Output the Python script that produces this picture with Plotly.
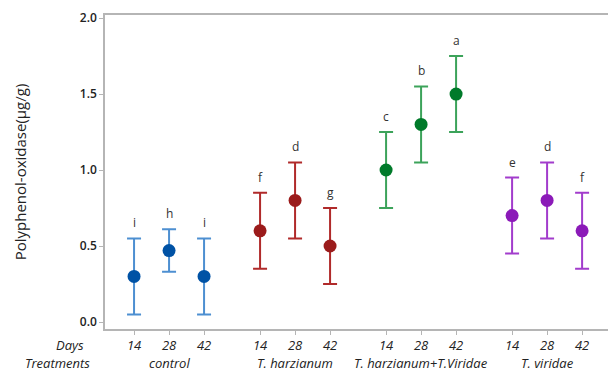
import plotly.graph_objects as go

treatments = ["control", "T. harzianum", "T. harzianum+T.Viridae", "T. viridae"]
days = ["14", "28", "42"]
means = [
    [0.30, 0.47, 0.30],
    [0.60, 0.80, 0.50],
    [1.00, 1.30, 1.50],
    [0.70, 0.80, 0.60],
]
errors = [
    [0.25, 0.14, 0.25],
    [0.25, 0.25, 0.25],
    [0.25, 0.25, 0.25],
    [0.25, 0.25, 0.25],
]
letters = [
    ["i", "h", "i"],
    ["f", "d", "g"],
    ["c", "b", "a"],
    ["e", "d", "f"],
]
marker_colors = ["#0052a5", "#9b1b1b", "#007a2a", "#8b1ab8"]
bar_colors = ["#4d8fd1", "#b02a2a", "#3ca35a", "#a23ccc"]

GROUP_STEP = 3.6

fig = go.Figure()
tickvals, ticktext = [], []
for g, t in enumerate(treatments):
    xs = [g * GROUP_STEP + i for i in range(len(days))]
    tickvals += xs
    ticktext += [f"<i>{d}</i>" for d in days]
    fig.add_trace(go.Scatter(
        x=xs, y=means[g], mode="markers",
        marker=dict(color=marker_colors[g], size=13),
        error_y=dict(type="data", array=errors[g], color=bar_colors[g],
                     thickness=2, width=7),
        showlegend=False, hoverinfo="skip",
    ))
    for i, xv in enumerate(xs):
        fig.add_annotation(x=xv, y=means[g][i] + errors[g][i], text=letters[g][i],
                           showarrow=False, yanchor="bottom", yshift=5,
                           font=dict(size=12, color="#333333", family="Open Sans"))
    fig.add_annotation(x=g * GROUP_STEP + 1, y=-0.108, yref="paper", text=f"<i>{t}</i>",
                       showarrow=False, yanchor="middle",
                       font=dict(size=13, color="#222222", family="Open Sans"))

fig.add_annotation(x=-0.037, xref="paper", y=-0.05, yref="paper", text="<i>Days</i>",
                   showarrow=False, xanchor="right", yanchor="middle",
                   font=dict(size=13, color="#222222", family="Open Sans"))
fig.add_annotation(x=-0.025, xref="paper", y=-0.108, yref="paper", text="<i>Treatments</i>",
                   showarrow=False, xanchor="right", yanchor="middle",
                   font=dict(size=13, color="#222222", family="Open Sans"))

fig.update_layout(
    width=608, height=379,
    margin=dict(l=105, r=0, t=15, b=50),
    plot_bgcolor="white", paper_bgcolor="white",
    font=dict(family="Open Sans", color="#222222"),
    xaxis=dict(range=[-0.83, 13.54], tickvals=tickvals, ticktext=ticktext,
               tickfont=dict(size=13, color="#222222"),
               showgrid=False, zeroline=False, showline=True, mirror=True,
               linecolor="#b5b5b5", linewidth=1.5, ticks="outside", ticklen=4,
               tickcolor="#b5b5b5", tickangle=0),
    yaxis=dict(range=[-0.046, 2.02], tickvals=[0, 0.5, 1.0, 1.5, 2.0],
               ticktext=["0.0", "0.5", "1.0", "1.5", "2.0"],
               tickfont=dict(size=12, color="#222222", family="Open Sans", weight=600),
               showgrid=False, zeroline=False, showline=True,
               linecolor="#b5b5b5", linewidth=1.5, ticks="outside", ticklen=4,
               tickcolor="#b5b5b5",
               title=dict(text="Polyphenol-oxidase(µg/g)", standoff=50,
                          font=dict(size=15, color="#222222", family="Open Sans", weight=500))),
)

fig.write_html("out.html")
